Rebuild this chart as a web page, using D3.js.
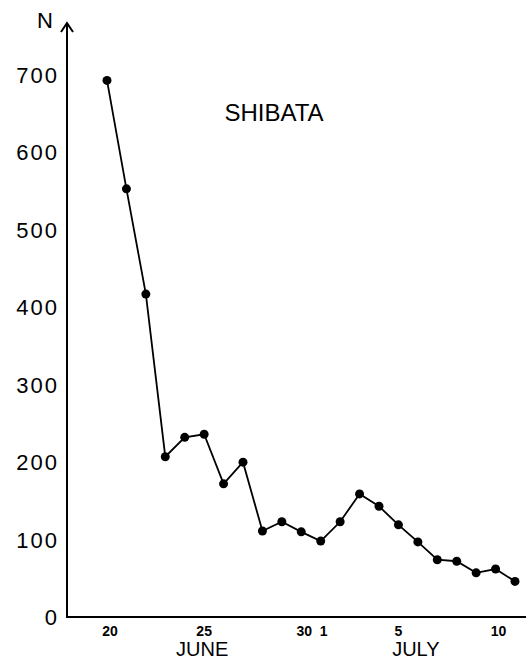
<!DOCTYPE html>
<html>
<head>
<meta charset="utf-8">
<script src="https://cdn.jsdelivr.net/npm/d3@7"></script>
<style>
  body { margin: 0; background: #fff; }
  svg { display: block; font-family: "Liberation Sans", Arial, sans-serif; }
</style>
</head>
<body>
<div id="chart"></div>
<script>
// day index 0 = June 20, 21 = July 11
const days = d3.range(0, 22);
const counts = [693, 553, 417, 207, 232, 236, 172, 200, 111, 123, 110, 98,
                123, 159, 143, 119, 97, 74, 72, 57, 62, 46];
const yTicks = [0, 100, 200, 300, 400, 500, 600, 700];
const xTickDays = [0, 5, 10, 11, 15, 20];
const xTickLabels = ['20', '25', '30', '1', '5', '10'];
const months = [{ name: 'JUNE', day: 5 }, { name: 'JULY', day: 16 }];

const width = 526, height = 661;

const svg = d3.select('#chart').append('svg')
  .attr('width', width)
  .attr('height', height);

const x = d3.scaleLinear().domain([0, 21]).range([107, 515]);
const y = d3.scaleLinear().domain([0, 700]).range([617, 75]);

// y axis line with arrow
svg.append('line')
  .attr('x1', 67).attr('x2', 67)
  .attr('y1', 617).attr('y2', 23)
  .attr('stroke', '#000').attr('stroke-width', 2);
svg.append('path')
  .attr('d', 'M61,32 L67,23 L73,32')
  .attr('fill', 'none').attr('stroke', '#000').attr('stroke-width', 2);
svg.append('text')
  .attr('x', 45).attr('y', 28)
  .attr('text-anchor', 'middle')
  .attr('font-size', 22)
  .text('N');

// x axis line
svg.append('line')
  .attr('x1', 66).attr('x2', width)
  .attr('y1', 617).attr('y2', 617)
  .attr('stroke', '#000').attr('stroke-width', 2);

// y tick labels
svg.selectAll('.ylab')
  .data(yTicks)
  .enter()
  .append('text')
  .attr('class', 'ylab')
  .attr('x', 59)
  .attr('y', d => y(d) + 8)
  .attr('text-anchor', 'end')
  .attr('font-size', 22)
  .attr('letter-spacing', 2)
  .text(d => d);

// x tick labels
svg.selectAll('.xlab')
  .data(xTickDays)
  .enter()
  .append('text')
  .attr('class', 'xlab')
  .attr('x', (d, i) => x(d) + (i === 0 ? 3 : i === 2 ? 3 : i === 3 ? 3 : i === 5 ? 3 : 0))
  .attr('y', 636)
  .attr('text-anchor', 'middle')
  .attr('font-size', 14)
  .attr('font-weight', 'bold')
  .text((d, i) => xTickLabels[i]);

// month labels
svg.selectAll('.month')
  .data(months)
  .enter()
  .append('text')
  .attr('class', 'month')
  .attr('x', d => x(d.day) - 2)
  .attr('y', 656)
  .attr('text-anchor', 'middle')
  .attr('font-size', 20)
  .text(d => d.name);

// title
svg.append('text')
  .attr('x', 274).attr('y', 121)
  .attr('text-anchor', 'middle')
  .attr('font-size', 24)
  .text('SHIBATA');

// line and points
const line = d3.line()
  .x(d => x(d))
  .y((d, i) => y(counts[i]));

svg.append('path')
  .datum(days)
  .attr('d', line)
  .attr('fill', 'none')
  .attr('stroke', '#000')
  .attr('stroke-width', 1.8);

svg.selectAll('.pt')
  .data(days)
  .enter()
  .append('circle')
  .attr('class', 'pt')
  .attr('cx', d => x(d))
  .attr('cy', (d, i) => y(counts[i]))
  .attr('r', 4.5)
  .attr('fill', '#000');
</script>
</body>
</html>
